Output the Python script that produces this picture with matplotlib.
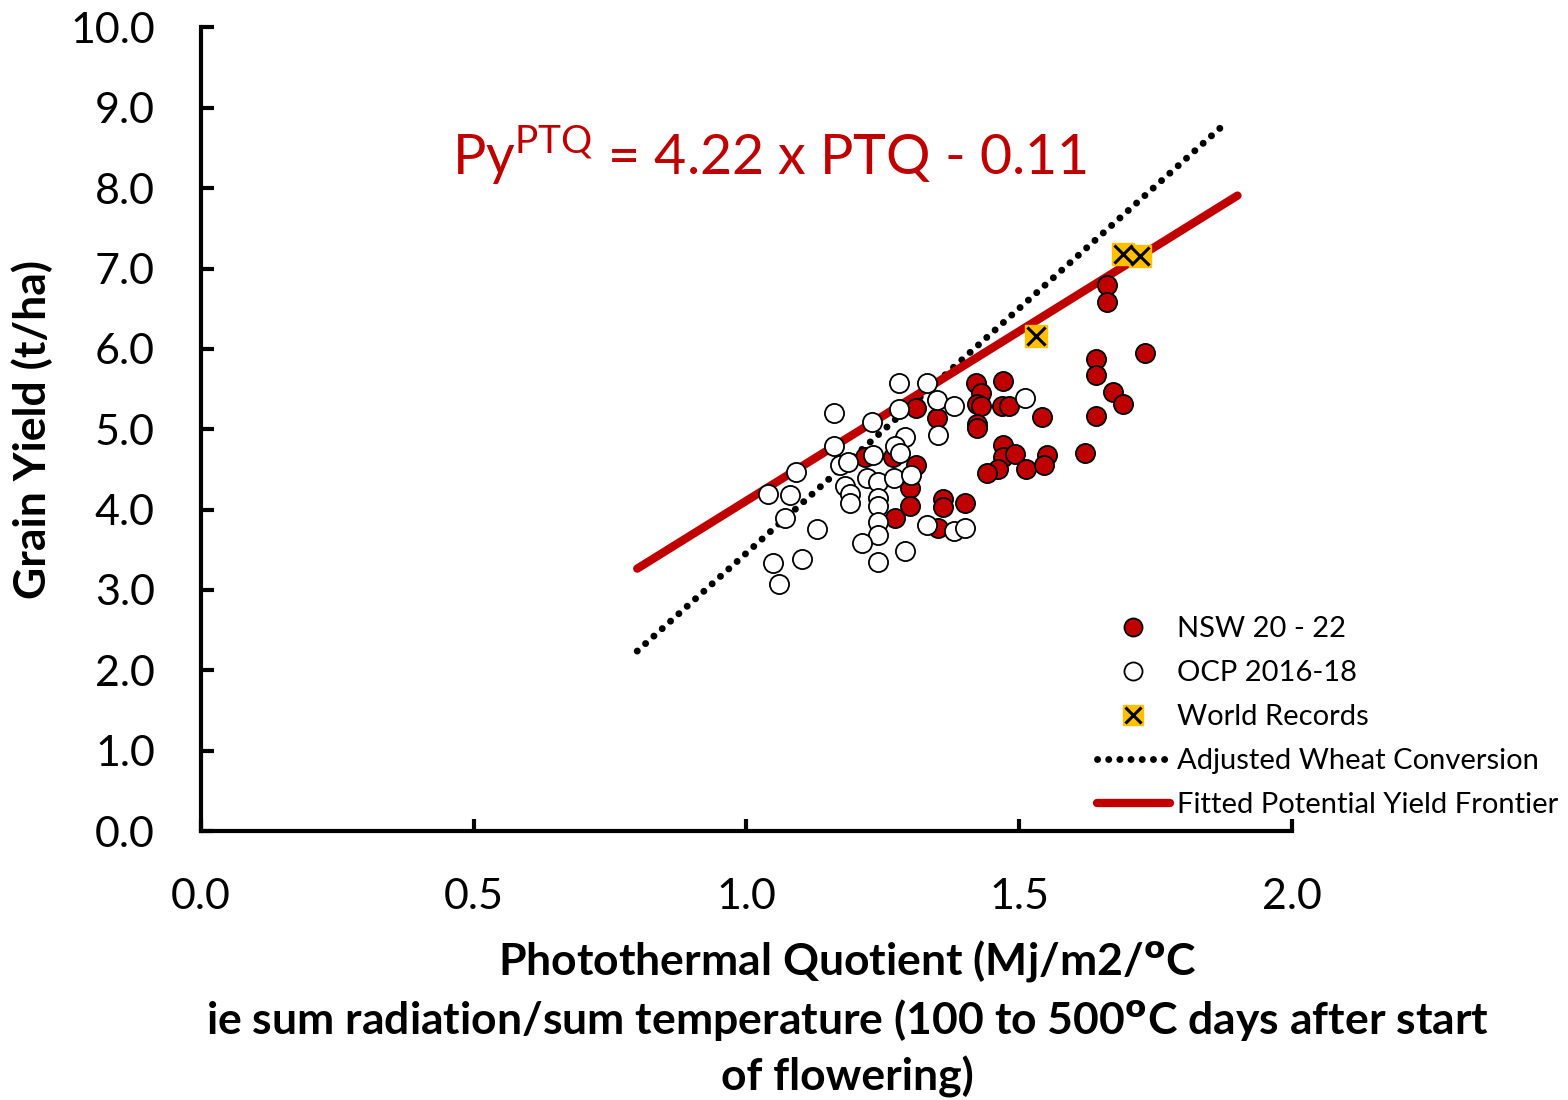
import matplotlib.pyplot as plt
from matplotlib.lines import Line2D

plt.rcParams['font.family'] = ['Lato', 'DejaVu Sans']

# NSW 20 - 22
nsw_x = [1.311, 1.349, 1.217, 1.269, 1.311, 1.300, 1.300, 1.272, 1.360, 1.360,
         1.401, 1.351, 1.421, 1.470, 1.430, 1.423, 1.430, 1.468, 1.481, 1.542,
         1.423, 1.423, 1.470, 1.470, 1.492, 1.461, 1.441, 1.512, 1.551, 1.545,
         1.621, 1.661, 1.661, 1.731, 1.641, 1.641, 1.672, 1.690, 1.641]
nsw_y = [5.27, 5.14, 4.66, 4.65, 4.55, 4.27, 4.04, 3.89, 4.13, 4.03,
         4.08, 3.77, 5.57, 5.60, 5.45, 5.31, 5.29, 5.29, 5.29, 5.15,
         5.07, 5.01, 4.80, 4.65, 4.69, 4.51, 4.45, 4.50, 4.68, 4.56,
         4.71, 6.79, 6.58, 5.95, 5.87, 5.67, 5.46, 5.32, 5.17]

# OCP 2016-18
ocp_x = [1.280, 1.331, 1.160, 1.230, 1.280, 1.349, 1.380, 1.351, 1.511, 1.160,
         1.291, 1.272, 1.232, 1.281, 1.171, 1.186, 1.091, 1.221, 1.241, 1.270,
         1.302, 1.181, 1.190, 1.039, 1.080, 1.190, 1.241, 1.241, 1.071, 1.129,
         1.241, 1.241, 1.331, 1.380, 1.401, 1.212, 1.049, 1.102, 1.291, 1.241,
         1.060]
ocp_y = [5.58, 5.58, 5.20, 5.09, 5.25, 5.36, 5.29, 4.93, 5.39, 4.79,
         4.90, 4.79, 4.68, 4.70, 4.55, 4.59, 4.47, 4.39, 4.34, 4.39,
         4.43, 4.30, 4.20, 4.19, 4.18, 4.08, 4.14, 4.05, 3.89, 3.76,
         3.84, 3.69, 3.81, 3.74, 3.77, 3.58, 3.33, 3.38, 3.48, 3.35,
         3.08]

# World records
wr_x = [1.531, 1.690, 1.721]
wr_y = [6.16, 7.18, 7.16]

# lines
fit_slope = 4.22
fit_intercept = -0.11
fit_x = [0.8, 1.9]
conv_x = [0.8, 1.88]
conv_y = [2.24, 8.82]

red = "#C00000"
gold = "#FFC000"

fig = plt.figure(figsize=(15.68, 11), dpi=100)
ax = fig.add_axes([0.128, 0.2445, 0.696, 0.7305])

ax.plot(conv_x, conv_y, color="black", linewidth=5,
        linestyle=(0, (0.01, 1.6)), dash_capstyle="round", zorder=2)
fit_y = [fit_slope * v + fit_intercept for v in fit_x]
ax.plot(fit_x, fit_y, color=red, linewidth=6, solid_capstyle="round", zorder=3)

ax.scatter(nsw_x, nsw_y, s=190, color=red, edgecolor="black", linewidth=1.3, zorder=4)
ax.scatter(ocp_x, ocp_y, s=190, color="white", edgecolor="black", linewidth=1.3, zorder=5)
ax.scatter(wr_x, wr_y, s=260, marker="s", color=gold, edgecolor=gold, zorder=6)
ax.scatter(wr_x, wr_y, s=170, marker="x", color="black", linewidth=2.2, zorder=7)

ax.set_xlim(0, 2.0)
ax.set_ylim(0, 10.0)
ax.set_xticks([0.0, 0.5, 1.0, 1.5, 2.0])
ax.set_yticks([i * 1.0 for i in range(11)])
ax.set_xticklabels([f"{v:.1f}" for v in ax.get_xticks()])
ax.set_yticklabels([f"{v:.1f}" for v in ax.get_yticks()])

for side in ["top", "right"]:
    ax.spines[side].set_visible(False)
for side in ["left", "bottom"]:
    ax.spines[side].set_linewidth(3)
ax.tick_params(direction="in", length=9, width=3, labelsize=31)
ax.tick_params(axis="x", pad=34)
ax.tick_params(axis="y", pad=33)

ax.set_ylabel("Grain Yield (t/ha)", fontsize=32, fontweight="bold", labelpad=12)
ax.set_xlabel("Photothermal Quotient (Mj/m2/$^{\\mathbf{o}}$C\n"
              "ie sum radiation/sum temperature (100 to 500$^{\\mathbf{o}}$C days after start\n"
              "of flowering)",
              fontsize=32, fontweight="bold", linespacing=1.36)
ax.xaxis.set_label_coords(0.593, -0.133, transform=ax.transAxes)
ax.xaxis.label.set_va("top")

ax.text(0.461, 8.18, "Py$^{\\mathregular{PTQ}}$ = 4.22 x PTQ - 0.11",
        fontsize=40, color=red)

wr_handle = (
    Line2D([], [], marker="s", linestyle="none", markersize=15, markerfacecolor=gold,
           markeredgecolor=gold),
    Line2D([], [], marker="x", linestyle="none", markersize=12, markeredgecolor="black",
           markeredgewidth=2.2),
)
handles = [
    Line2D([], [], marker="o", linestyle="none", markersize=13, markerfacecolor=red,
           markeredgecolor="black", markeredgewidth=1.3),
    Line2D([], [], marker="o", linestyle="none", markersize=13, markerfacecolor="white",
           markeredgecolor="black", markeredgewidth=1.3),
    wr_handle,
    Line2D([], [], color="black", linewidth=5, linestyle=(0, (0.01, 1.6)),
           dash_capstyle="round"),
    Line2D([], [], color=red, linewidth=6, solid_capstyle="round"),
]
labels = ["NSW 20 - 22", "OCP 2016-18", "World Records",
          "Adjusted Wheat Conversion", "Fitted Potential Yield Frontier"]
leg = ax.legend(handles, labels, loc="lower left", bbox_to_anchor=(0.797, -0.017),
                frameon=False, fontsize=21, handlelength=2.5, handletextpad=0.25,
                labelspacing=0.62)

fig.savefig("out.png", dpi=100)
